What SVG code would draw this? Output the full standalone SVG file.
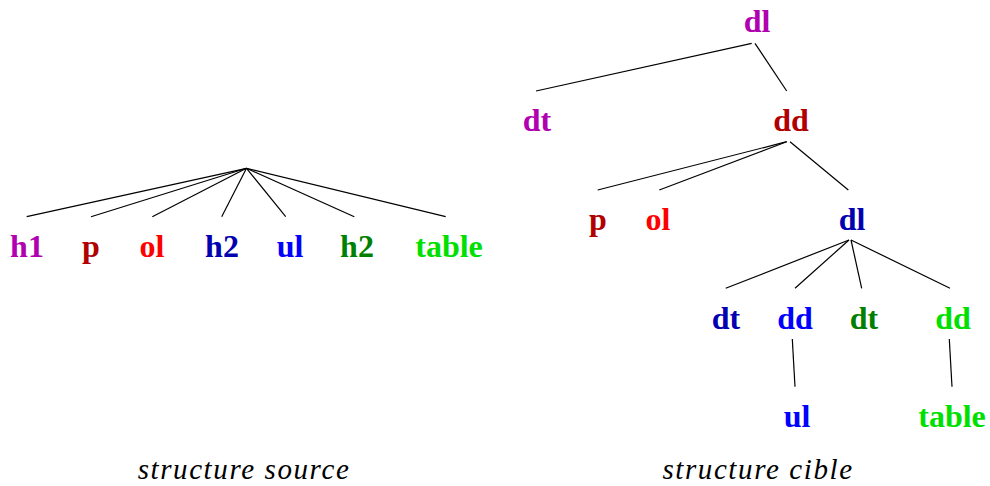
<svg xmlns="http://www.w3.org/2000/svg" width="990" height="486" viewBox="0 0 990 486">
<style>
.lbl{font-family:"Liberation Serif","Times New Roman",serif;font-weight:bold;font-size:32px;text-anchor:middle}
.cap{font-family:"Liberation Serif","Times New Roman",serif;font-style:italic;font-size:29px;letter-spacing:1.6px;text-anchor:middle;fill:#000}
.edges line{stroke:#000;stroke-width:1.2}
</style>
<rect width="990" height="486" fill="#fff"/>
<g id="connectors" class="edges">
<line x1="246.5" y1="168.3" x2="26.7" y2="216.7"/>
<line x1="246.5" y1="168.3" x2="91" y2="216.7"/>
<line x1="246.5" y1="168.3" x2="152.3" y2="216.7"/>
<line x1="246.5" y1="168.3" x2="221.7" y2="216.7"/>
<line x1="246.5" y1="168.3" x2="285.7" y2="216.7"/>
<line x1="246.5" y1="168.3" x2="354.3" y2="216.7"/>
<line x1="246.5" y1="168.3" x2="445.7" y2="216.7"/>
<line x1="751.7" y1="43.3" x2="536" y2="91"/>
<line x1="755" y1="43.3" x2="786.7" y2="91"/>
<line x1="786.7" y1="141.7" x2="597.7" y2="190"/>
<line x1="786.7" y1="141.7" x2="659.3" y2="190"/>
<line x1="790" y1="141.7" x2="848.3" y2="190"/>
<line x1="849" y1="240" x2="725.7" y2="288.3"/>
<line x1="849" y1="240" x2="795" y2="288.3"/>
<line x1="851" y1="240" x2="861.7" y2="288.3"/>
<line x1="851" y1="240" x2="950" y2="288.3"/>
<line x1="792.3" y1="339" x2="795" y2="386.7"/>
<line x1="949.3" y1="339" x2="952" y2="386.7"/>
</g>
<g id="src-h1"><text class="lbl" x="27" y="257" fill="#b000b0">h1</text></g>
<g id="src-p"><text class="lbl" x="91" y="257" fill="#b00000">p</text></g>
<g id="src-ol"><text class="lbl" x="152" y="257" fill="#ff0000">ol</text></g>
<g id="src-h2a"><text class="lbl" x="222" y="257" fill="#0000b0">h2</text></g>
<g id="src-ul"><text class="lbl" x="290" y="257" fill="#0000ff">ul</text></g>
<g id="src-h2b"><text class="lbl" x="357" y="257" fill="#008000">h2</text></g>
<g id="src-table"><text class="lbl" x="449" y="257" fill="#00e000">table</text></g>
<g id="t-dl"><text class="lbl" x="757" y="32" fill="#b000b0">dl</text></g>
<g id="t-dt"><text class="lbl" x="537" y="131" fill="#b000b0">dt</text></g>
<g id="t-dd"><text class="lbl" x="791" y="131" fill="#b00000">dd</text></g>
<g id="t-p"><text class="lbl" x="598" y="230" fill="#b00000">p</text></g>
<g id="t-ol"><text class="lbl" x="658" y="230" fill="#ff0000">ol</text></g>
<g id="t-dl2"><text class="lbl" x="852" y="230" fill="#0000b0">dl</text></g>
<g id="t-dt2"><text class="lbl" x="726" y="329" fill="#0000b0">dt</text></g>
<g id="t-dd2"><text class="lbl" x="795" y="329" fill="#0000ff">dd</text></g>
<g id="t-dt3"><text class="lbl" x="864" y="329" fill="#008000">dt</text></g>
<g id="t-dd3"><text class="lbl" x="953" y="329" fill="#00e000">dd</text></g>
<g id="t-ul"><text class="lbl" x="797" y="427" fill="#0000ff">ul</text></g>
<g id="t-table"><text class="lbl" x="952" y="427" fill="#00e000">table</text></g>
<g id="captions">
<text class="cap" x="244" y="479">structure source</text>
<text class="cap" x="758" y="479">structure cible</text>
</g>
</svg>
